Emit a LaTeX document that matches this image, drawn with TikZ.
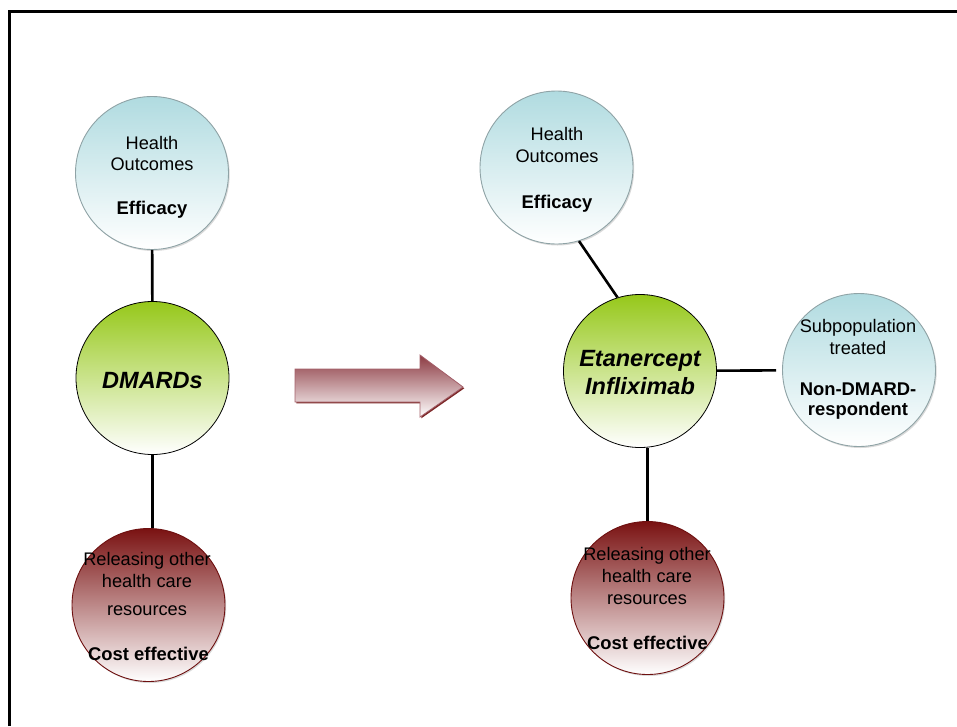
\documentclass[tikz,border=0pt]{standalone}
\usepackage{fontspec}
\setmainfont{Liberation Sans}
\usetikzlibrary{shadows}

\definecolor{tealtop}{HTML}{B0DBE0}
\definecolor{tealedge}{HTML}{8FA3A6}
\definecolor{limetop}{HTML}{96C81A}
\definecolor{limemid}{HTML}{CDE59A}
\definecolor{winetop}{HTML}{7A1212}
\definecolor{winemid}{HTML}{B88A8B}
\definecolor{wineedge}{HTML}{6E1010}
\definecolor{arrowtop}{HTML}{8C3A42}
\definecolor{arrowedge}{HTML}{A4606A}

\tikzset{
  bubble/.style={circle, minimum size=153pt, inner sep=0pt},
  outcome/.style={bubble, draw=tealedge, line width=0.9pt,
    top color=tealtop, bottom color=white,
    drop shadow={shadow xshift=1.2pt, shadow yshift=-1.5pt, opacity=0.3}},
  therapy/.style={bubble, draw=black, line width=0.8pt,
    top color=limetop, middle color=limemid, bottom color=white},
  costbox/.style={bubble, draw=wineedge, line width=0.9pt,
    top color=winetop, middle color=winemid, bottom color=white,
    drop shadow={shadow xshift=1.2pt, shadow yshift=-1.5pt, opacity=0.3}},
  link/.style={line width=2.6pt, black},
  txt/.style={anchor=base, inner sep=0pt, font=\fontsize{18.2}{21}\selectfont},
  btxt/.style={txt, font=\fontsize{18.4}{21}\selectfont\bfseries},
  drug/.style={anchor=base, inner sep=0pt, font=\fontsize{23.5}{28}\selectfont\bfseries\itshape},
}

\begin{document}
\begin{tikzpicture}[x=1pt, y=-1pt]
\useasboundingbox (0,0) rectangle (957,726);

% page frame
\draw[line width=3pt] (9,726) -- (9,11) -- (957,11);

% ---- before: DMARDs ----
\node[outcome] (h1) at (152,173) {};
\node[therapy] (dm) at (152.5,378) {};
\node[costbox] (c1) at (148.5,605) {};

\draw[link] (h1) -- (dm);
\draw[link] (dm.south) -- (dm.south |- c1.north);

\node[txt]  (h1a) at (152,149) {Health};
\node[txt]  (h1b) at (152,170) {Outcomes};
\node[btxt] (h1c) at (152,214) {Efficacy};

\node[drug] (dma) at (152.5,388) {DMARDs};

\node[txt]  (c1a) at (147,565) {Releasing other};
\node[txt]  (c1b) at (147,587) {health care};
\node[txt]  (c1c) at (147,615) {resources};
\node[btxt] (c1d) at (148.5,660) {Cost effective};

% ---- transition arrow ----
\draw[draw=arrowedge, line width=0.8pt, top color=arrowtop, bottom color=white,
      drop shadow={shadow xshift=1.3pt, shadow yshift=-1.3pt, fill=wineedge, opacity=0.9}]
  (295,369) -- (420,369) -- (420,355) -- (463,387) -- (420,417) -- (420,402) -- (295,402) -- cycle;

% ---- after: Etanercept / Infliximab ----
\node[outcome] (h2) at (556.5,167.5) {};
\node[therapy] (et) at (640,371) {};
\node[outcome] (sp) at (859,370) {};
\node[costbox] (c2) at (647.5,598) {};

\draw[link] (h2.-73) -- (et.107);
\draw[link, shorten >=6pt] (et) -- (sp);
\draw[link] (c2.north) -- (c2.north |- et.south);

\node[txt]  (h2a) at (557,140) {Health};
\node[txt]  (h2b) at (557,162) {Outcomes};
\node[btxt] (h2c) at (557,208) {Efficacy};

\node[drug] (eta) at (640,366) {Etanercept};
\node[drug] (etb) at (640,394) {Infliximab};

\node[txt]  (spa) at (858,332) {Subpopulation};
\node[txt]  (spb) at (858,354) {treated};
\node[btxt] (spc) at (858,395) {Non-DMARD-};
\node[btxt] (spd) at (858,415) {respondent};

\node[txt]  (c2a) at (647,560) {Releasing other};
\node[txt]  (c2b) at (647,582) {health care};
\node[txt]  (c2c) at (647,604) {resources};
\node[btxt] (c2d) at (647.5,649) {Cost effective};
\end{tikzpicture}
\end{document}
